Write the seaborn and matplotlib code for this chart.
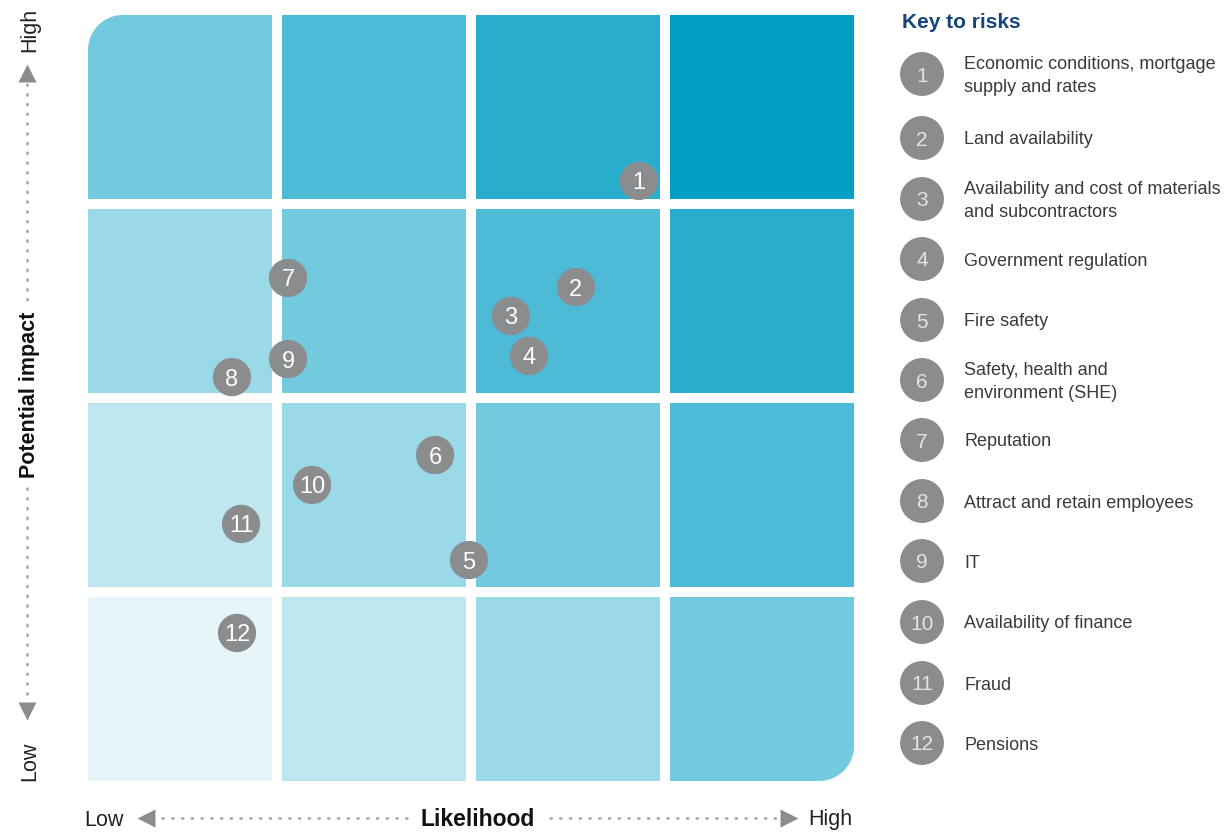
import numpy as np
import pandas as pd
import matplotlib
matplotlib.use("Agg")
import matplotlib.pyplot as plt
from matplotlib.patches import PathPatch, Rectangle
from matplotlib.path import Path
import seaborn as sns

# ---------------- data ----------------
risk_ids = list(range(1, 13))
likelihood = [2.84, 2.515, 2.18, 2.273, 1.964, 1.789, 1.031, 0.742, 1.031, 1.155, 0.789, 0.768]
impact = [3.093, 2.546, 2.397, 2.191, 1.139, 1.680, 2.593, 2.082, 2.175, 1.526, 1.325, 0.763]
risk_labels = [
    "Economic conditions, mortgage\nsupply and rates",
    "Land availability",
    "Availability and cost of materials\nand subcontractors",
    "Government regulation",
    "Fire safety",
    "Safety, health and\nenvironment (SHE)",
    "Reputation",
    "Attract and retain employees",
    "IT",
    "Availability of finance",
    "Fraud",
    "Pensions",
]
level_colors = ["#e6f5f9", "#c0e7ef", "#9ad9e7", "#73c9de", "#4dbad6", "#28adcd", "#00a0c3"]
axis_low, axis_high = "Low", "High"

# ---------------- style ----------------
sns.set_theme(style="white")
plt.rcParams["font.family"] = ["Liberation Sans", "DejaVu Sans"]

W, H = 1224, 836
fig = plt.figure(figsize=(W / 100, H / 100), dpi=100)

# main grid axes (pixel box 88..854 x 15..781)
ax = fig.add_axes([88 / W, (H - 781) / H, 766 / W, 766 / H])
pitch = 194.0
gap = 10.0 / pitch
cell = 1 - gap
extent = 4 - gap
ax.set_xlim(0, extent)
ax.set_ylim(0, extent)
ax.axis("off")


def rounded_cell(x0, y0, w, h, corner, r, n=24):
    if corner == "tl":
        cx, cy = x0 + r, y0 + h - r
        ang = np.linspace(np.pi, np.pi / 2, n)
        arc = np.c_[cx + r * np.cos(ang), cy + r * np.sin(ang)]
        pts = np.vstack([[x0, y0], arc, [x0 + w, y0 + h], [x0 + w, y0]])
    else:  # 'br'
        cx, cy = x0 + w - r, y0 + r
        ang = np.linspace(0, -np.pi / 2, n)
        arc = np.c_[cx + r * np.cos(ang), cy + r * np.sin(ang)]
        pts = np.vstack([[x0, y0], [x0, y0 + h], [x0 + w, y0 + h], arc])
    pts = np.vstack([pts, pts[0]])
    codes = [Path.MOVETO] + [Path.LINETO] * (len(pts) - 2) + [Path.CLOSEPOLY]
    return Path(pts, codes)


radius = 35 / pitch
for col in range(4):
    for row in range(4):
        color = level_colors[col + row]
        x0, y0 = col, row
        if col == 0 and row == 3:
            ax.add_patch(PathPatch(rounded_cell(x0, y0, cell, cell, "tl", radius), fc=color, ec="none"))
        elif col == 3 and row == 0:
            ax.add_patch(PathPatch(rounded_cell(x0, y0, cell, cell, "br", radius), fc=color, ec="none"))
        else:
            ax.add_patch(Rectangle((x0, y0), cell, cell, fc=color, ec="none"))

df = pd.DataFrame({"id": risk_ids, "likelihood": likelihood, "impact": impact})
sns.scatterplot(data=df, x="likelihood", y="impact", s=760, color="#8a8c8d",
                edgecolor="none", ax=ax, zorder=5, clip_on=False, legend=False)
for rid, xv, yv in zip(risk_ids, likelihood, impact):
    ax.text(xv, yv, str(rid), ha="center", va="center_baseline", color="white",
            fontsize=17, zorder=6)

# overlay axes in pixel coordinates for annotations and key
ov = fig.add_axes([0, 0, 1, 1], facecolor="none")

grey = "#8a8c8d"
dot = dict(color="#a0a2a3", lw=1.8, linestyle=(0, (0.5, 3.4)), solid_capstyle="round",
           dash_capstyle="round")

# key to risks
key_y = [74, 138, 199, 259, 320, 380, 440, 501, 561, 622, 683, 743]
key_df = pd.DataFrame({"x": [922] * len(risk_ids), "y": key_y})
sns.scatterplot(data=key_df, x="x", y="y", s=1000, color="#8a8c8d", edgecolor="none",
                ax=ov, legend=False, clip_on=False)
ov.set_xlim(0, W)
ov.set_ylim(H, 0)
ov.axis("off")

for rid, ky, lab in zip(risk_ids, key_y, risk_labels):
    ov.text(922, ky, str(rid), ha="center", va="center_baseline", color="#e4e4e4", fontsize=15)
    ov.text(964, ky + 2, lab, ha="left", va="center", color="#3a3a3a", fontsize=13,
            linespacing=1.48)
ov.text(902, 22, "Key to risks", ha="left", va="center", fontsize=15,
        fontweight="bold", color="#16457a")

# x axis
ov.plot([162, 410], [818, 818], **dot)
ov.plot([550, 786], [818, 818], **dot)
ov.plot([146], [818], marker="<", ms=13, color=grey, mec="none")
ov.plot([789], [818], marker=">", ms=13, color=grey, mec="none")
ov.text(104, 820, axis_low, ha="center", va="center", fontsize=15.5, color="#222222")
ov.text(808, 820, axis_high, ha="left", va="center", fontsize=15.5, color="#222222")
ov.text(478, 819, "Likelihood", ha="center", va="center", fontsize=16.5,
        fontweight="bold", color="#111111")
# y axis
ov.plot([27, 27], [84, 305], **dot)
ov.plot([27, 27], [488, 702], **dot)
ov.plot([27], [73], marker="^", ms=13, color=grey, mec="none")
ov.plot([27], [711], marker="v", ms=13, color=grey, mec="none")
ov.text(30, 30, axis_high, ha="center", va="center", rotation=90, fontsize=15.5, color="#222222")
ov.text(30, 761, axis_low, ha="center", va="center", rotation=90, fontsize=15.5, color="#222222")
ov.text(30, 395, "Potential impact", ha="center", va="center", rotation=90,
        fontsize=15.5, fontweight="bold", color="#111111")

fig.savefig("out.png", dpi=100)
